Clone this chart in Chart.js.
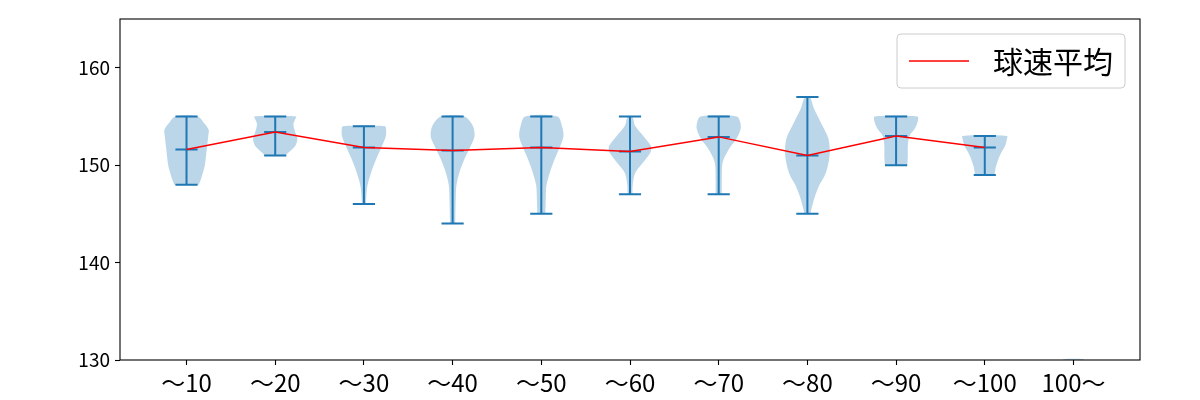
<!DOCTYPE html>
<html>
<head>
<meta charset="utf-8">
<script src="https://cdn.jsdelivr.net/npm/chart.js@4"></script>
<style>
  html, body { margin: 0; padding: 0; background: #fff; }
  #wrap { width: 1200px; height: 400px; }
</style>
</head>
<body>
<div id="wrap"><canvas id="violin_chart" width="1200" height="400"></canvas></div>
<script>
const categories = ['〜10', '〜20', '〜30', '〜40', '〜50', '〜60', '〜70', '〜80', '〜90', '〜100', '100〜'];
const means = [151.6, 153.4, 151.8, 151.5, 151.8, 151.4, 152.9, 151.0, 153.0, 151.8, null];
const mins = [148, 151, 146, 144, 145, 147, 147, 145, 150, 149, null];
const maxs = [155, 155, 154, 155, 155, 155, 155, 157, 155, 153, null];
// density shape: [speed, relative width]
const densities = [
    [[148, 0.55], [148.5, 0.64], [149.9, 0.82], [151.6, 0.91], [153.0, 0.98], [153.6, 1.0], [154.3, 0.8], [155, 0.5]],
    [[151, 0.45], [151.3, 0.6], [152.0, 0.91], [152.7, 1.0], [153.4, 0.9], [154.2, 0.82], [154.7, 0.9], [155, 0.94]],
    [[146, 0.09], [146.5, 0.1], [147.9, 0.16], [149.2, 0.32], [150.6, 0.55], [152.0, 0.82], [153.0, 0.99], [153.7, 1.0], [154, 0.95]],
    [[144, 0.12], [144.4, 0.12], [146.5, 0.14], [147.9, 0.17], [149.2, 0.3], [150.6, 0.53], [152.0, 0.82], [153.0, 0.99], [154.05, 0.91], [155, 0.53]],
    [[145, 0.18], [146.5, 0.2], [147.9, 0.23], [149.2, 0.38], [150.6, 0.6], [152.0, 0.86], [153.0, 1.0], [154.05, 0.93], [155, 0.73]],
    [[147, 0.11], [147.9, 0.12], [149.2, 0.23], [150.3, 0.6], [151.3, 0.92], [151.7, 0.96], [152.0, 0.94], [153.0, 0.6], [154.05, 0.23], [155, 0.1]],
    [[147, 0.14], [148.6, 0.14], [150.3, 0.18], [151.6, 0.45], [152.7, 0.8], [153.7, 0.99], [154.4, 0.97], [155, 0.82]],
    [[145, 0.13], [145.1, 0.14], [146.5, 0.3], [147.9, 0.53], [149.2, 0.83], [151.0, 1.0], [152.7, 0.95], [154.4, 0.6], [155.8, 0.3], [157, 0.11]],
    [[150, 0.51], [151.0, 0.53], [152.0, 0.53], [153.0, 0.6], [153.6, 0.8], [154.05, 0.91], [154.6, 0.99], [155, 0.97]],
    [[149, 0.45], [149.2, 0.45], [149.9, 0.51], [151.0, 0.68], [152.0, 0.92], [152.6, 0.99], [153, 1.0]],
    [[129.9, 0.45], [130.1, 0.45]]
];
const yTicks = [130, 140, 150, 160];
const legendLabel = '球速平均';

const FONT = "'Noto Sans CJK JP', 'Noto Sans', sans-serif";
const BLUE = '#1f77b4';
const HALF = 0.25; // half of violin width 0.5

const datasets = [];

// mean line
datasets.push({
    type: 'line',
    label: legendLabel,
    data: means.map((m, i) => ({x: i + 1, y: m})),
    borderColor: 'red',
    borderWidth: 1.5,
    pointRadius: 0,
    tension: 0,
    fill: false,
    order: 0
});

// whiskers, caps and mean markers
const segs = [];
for (let i = 0; i < categories.length; i++) {
    if (mins[i] === null) continue;
    const p = i + 1;
    segs.push({x: p, y: mins[i]}, {x: p, y: maxs[i]}, {x: p, y: null});
    for (const v of [mins[i], maxs[i], means[i]]) {
        segs.push({x: p - HALF / 2, y: v}, {x: p + HALF / 2, y: v}, {x: p, y: null});
    }
}
datasets.push({
    type: 'line',
    label: 'lines',
    data: segs,
    borderColor: BLUE,
    borderWidth: 2,
    pointRadius: 0,
    spanGaps: false,
    tension: 0,
    fill: false,
    order: 1
});

// violin bodies
densities.forEach((levels, i) => {
    const p = i + 1;
    const right = levels.map(([v, d]) => ({x: p + d * HALF, y: v}));
    const left = levels.slice().reverse().map(([v, d]) => ({x: p - d * HALF, y: v}));
    datasets.push({
        type: 'line',
        label: 'violin' + i,
        data: right.concat(left),
        borderWidth: 0,
        borderColor: 'rgba(0,0,0,0)',
        backgroundColor: 'rgba(31,119,180,0.3)',
        pointRadius: 0,
        tension: 0.3,
        fill: 'shape',
        order: 2
    });
});

const framePlugin = {
    id: 'frame',
    afterDraw(chart) {
        const {ctx, chartArea: a} = chart;
        ctx.save();
        ctx.strokeStyle = '#000';
        ctx.lineWidth = 1.1;
        ctx.strokeRect(a.left, a.top, a.right - a.left, a.bottom - a.top);

        // legend box, matplotlib style
        const fs = 30;
        ctx.font = fs + 'px ' + FONT;
        const tw = ctx.measureText(legendLabel).width;
        const pad = 0.4 * fs, handle = 2 * fs, gap = 0.8 * fs;
        const w = pad + handle + gap + tw + pad;
        const h = fs + 2 * pad;
        const x0 = a.right - 0.5 * fs - w;
        const y0 = a.top + 0.5 * fs;
        ctx.fillStyle = 'rgba(255,255,255,0.8)';
        ctx.strokeStyle = '#cccccc';
        ctx.lineWidth = 1;
        ctx.beginPath();
        ctx.roundRect(x0, y0, w, h, 4);
        ctx.fill();
        ctx.stroke();
        ctx.strokeStyle = 'red';
        ctx.lineWidth = 1.5;
        ctx.beginPath();
        ctx.moveTo(x0 + pad, y0 + h / 2);
        ctx.lineTo(x0 + pad + handle, y0 + h / 2);
        ctx.stroke();
        ctx.fillStyle = '#000';
        ctx.textBaseline = 'middle';
        ctx.fillText(legendLabel, x0 + pad + handle + gap, y0 + h / 2 + 1);
        ctx.restore();
    }
};

const ctx = document.getElementById('violin_chart').getContext('2d');
new Chart(ctx, {
    type: 'line',
    data: {datasets: datasets},
    options: {
        responsive: false,
        animation: false,
        layout: {padding: {top: 19, right: 60, left: 0, bottom: 0}},
        plugins: {
            legend: {display: false},
            tooltip: {enabled: false}
        },
        scales: {
            x: {
                type: 'linear',
                min: 0.25,
                max: 11.75,
                afterBuildTicks: (scale) => {
                    scale.ticks = categories.map((c, i) => ({value: i + 1}));
                },
                afterFit: (scale) => { scale.height = 40; },
                grid: {
                    drawOnChartArea: false,
                    drawTicks: true,
                    tickLength: 5,
                    tickColor: '#000',
                    tickWidth: 1.1
                },
                border: {display: false},
                ticks: {
                    autoSkip: false,
                    maxRotation: 0,
                    padding: 3,
                    color: '#000',
                    font: {size: 24, family: FONT},
                    callback: (v) => categories[Math.round(v) - 1]
                }
            },
            y: {
                min: 130,
                max: 165,
                afterBuildTicks: (scale) => {
                    scale.ticks = yTicks.map(v => ({value: v}));
                },
                afterFit: (scale) => { scale.width = 120; },
                grid: {
                    drawOnChartArea: false,
                    drawTicks: true,
                    tickLength: 5,
                    tickColor: '#000',
                    tickWidth: 1.1
                },
                border: {display: false},
                ticks: {
                    padding: 5,
                    color: '#000',
                    font: {size: 19, family: FONT}
                }
            }
        }
    },
    plugins: [framePlugin]
});
</script>
</body>
</html>
